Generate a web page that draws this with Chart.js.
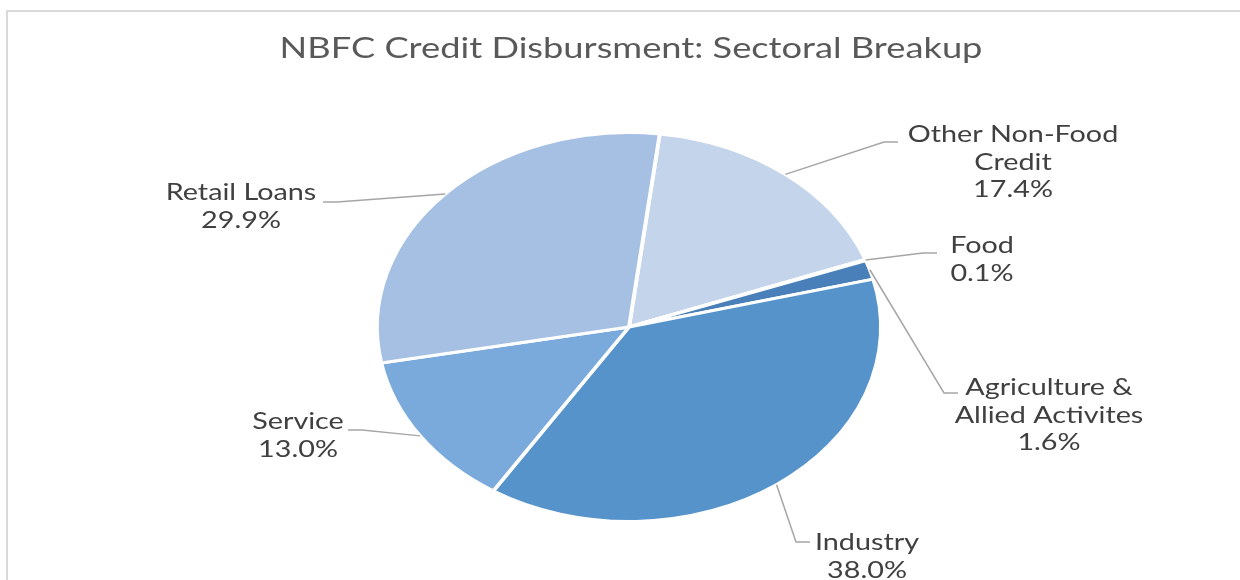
<!DOCTYPE html>
<html>
<head>
<meta charset="utf-8">
<script src="https://cdn.jsdelivr.net/npm/chart.js@4.4.1/dist/chart.umd.min.js"></script>
<style>
  html, body { margin: 0; padding: 0; background: #fff; overflow: hidden; }
  #wrap { position: relative; width: 1240px; height: 580px; }
  #frame { position: absolute; left: 6px; top: 10px; width: 1260px; height: 600px;
           border: 2px solid #d9d9d9; box-sizing: border-box; }
  #chart { position: absolute; left: 0; top: 0; }
</style>
</head>
<body>
<div id="wrap">
  <div id="frame"></div>
  <canvas id="chart" width="1240" height="580"></canvas>
</div>
<script>
const chartTitle = "NBFC Credit Disbursment: Sectoral Breakup";
const categories = [
    ["Other Non-Food", "Credit"],
    ["Food"],
    ["Agriculture &", "Allied Activites"],
    ["Industry"],
    ["Service"],
    ["Retail Loans"]
];
const shares = [17.4, 0.1, 1.6, 38.0, 13.0, 29.9];
const colors = ["#c4d4ea", "#3f77b0", "#4a80b9", "#5793cb", "#7aaadb", "#a5c0e3"];

// where Excel put each label: text centre (first line) and leader end point
const labelLayout = [
    { x: 1013, y: 135, ex: 898, ey: 142 },
    { x: 982, y: 246, ex: 937, ey: 253 },
    { x: 1049, y: 388, ex: 958, ey: 393 },
    { x: 867, y: 543, ex: 810, ey: 542 },
    { x: 298, y: 422, ex: 348, ey: 430 },
    { x: 241, y: 193, ex: 323, ey: 202 }
];

// the picture is stretched sideways: pie is an ellipse, text is wide
const stretchX = 254 / 196;
const textStretch = 1.25;
const fontFamily = "Lato, 'Open Sans', sans-serif";

function wideText(ctx, text, x, y) {
    ctx.save();
    ctx.translate(x, y);
    ctx.scale(textStretch, 1);
    ctx.fillText(text, 0, 0);
    ctx.restore();
}

const ellipsePlugin = {
    id: "ellipse",
    beforeDatasetsDraw(chart) {
        const arc = chart.getDatasetMeta(0).data[0];
        const ctx = chart.ctx;
        ctx.save();
        ctx.translate(arc.x, arc.y);
        ctx.scale(stretchX, 1);
        ctx.translate(-arc.x, -arc.y);
    },
    afterDatasetsDraw(chart) {
        chart.ctx.restore();
    }
};

const labelPlugin = {
    id: "pieLabels",
    afterDraw(chart) {
        const ctx = chart.ctx;
        const meta = chart.getDatasetMeta(0);
        ctx.save();
        ctx.textAlign = "center";
        ctx.textBaseline = "middle";

        ctx.fillStyle = "#595959";
        ctx.font = "29px " + fontFamily;
        wideText(ctx, chartTitle, 631, 49);

        meta.data.forEach((arc, i) => {
            const mid = (arc.startAngle + arc.endAngle) / 2;
            const r = arc.outerRadius;
            const sx = arc.x + Math.cos(mid) * r * stretchX;
            const sy = arc.y + Math.sin(mid) * r;
            const lay = labelLayout[i];
            const elbow = lay.ex < sx ? lay.ex + 14 : lay.ex - 14;

            ctx.strokeStyle = "#a6a6a6";
            ctx.lineWidth = 1.5;
            ctx.beginPath();
            ctx.moveTo(sx, sy);
            ctx.lineTo(elbow, lay.ey);
            ctx.lineTo(lay.ex, lay.ey);
            ctx.stroke();

            const lines = categories[i].concat([shares[i].toFixed(1) + "%"]);
            ctx.fillStyle = "#404040";
            ctx.font = "23px " + fontFamily;
            lines.forEach((t, k) => wideText(ctx, t, lay.x, lay.y + k * 27.5));
        });
        ctx.restore();
    }
};

new Chart("chart", {
    type: "pie",
    data: {
        labels: categories.map(c => c.join(" ")),
        datasets: [{
            data: shares,
            backgroundColor: colors,
            borderColor: "#ffffff",
            borderWidth: 3
        }]
    },
    options: {
        responsive: false,
        animation: false,
        rotation: 7,
        layout: { padding: { left: 18, right: 0, top: 131, bottom: 57 } },
        plugins: {
            legend: { display: false },
            tooltip: { enabled: false },
            title: { display: false }
        }
    },
    plugins: [ellipsePlugin, labelPlugin]
});
</script>
</body>
</html>
